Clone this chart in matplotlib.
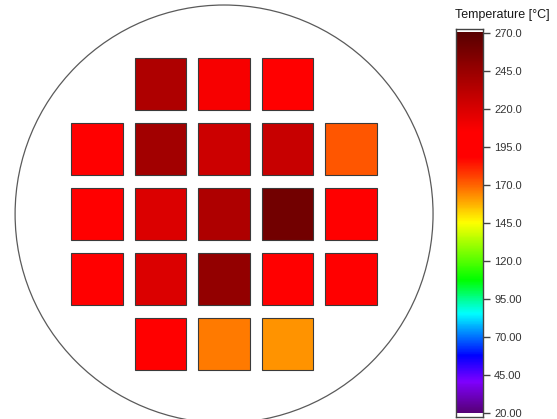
import numpy as np
import matplotlib
matplotlib.use("Agg")
import matplotlib.pyplot as plt
from matplotlib.colors import LinearSegmentedColormap, Normalize
from matplotlib.patches import Circle, Rectangle

plt.rcParams['font.family'] = ['Liberation Sans', 'DejaVu Sans']

# die temperatures [degC], rows top to bottom, NaN = no die
row0 = [np.nan, 236, 208, 200, np.nan]
row1 = [200, 241, 225, 227, 172]
row2 = [200, 219, 236, 260, 202]
row3 = [200, 219, 247, 201, 201]
row4 = [np.nan, 201, 166, 162, np.nan]
temps = np.array([row0, row1, row2, row3, row4])

tick_values = [270, 245, 220, 195, 170, 145, 120, 95, 70, 45, 20]
tick_labels = ['270.0', '245.0', '220.0', '195.0', '170.0', '145.0',
               '120.0', '95.00', '70.00', '45.00', '20.00']
tmin, tmax = 20, 270

# wafer / die layout in mm
wafer_r = 100.0
pitch_x, pitch_y = 30.4, 31.1
die = 24.6

# rainbow map: purple -> blue -> cyan -> green -> yellow -> orange -> red -> dark red
nodes = [(20, (0.34, 0.0, 0.47)), (40, (0.50, 0.0, 1.0)), (57, (0.0, 0.0, 1.0)),
         (85, (0.0, 1.0, 1.0)), (107, (0.0, 1.0, 0.0)), (145, (1.0, 1.0, 0.0)),
         (170, (1.0, 0.38, 0.0)), (188, (1.0, 0.0, 0.0)), (205, (1.0, 0.0, 0.0)),
         (270, (0.35, 0.0, 0.0))]
cmap = LinearSegmentedColormap.from_list(
    'temp', [((v - tmin) / (tmax - tmin), c) for v, c in nodes])
norm = Normalize(tmin, tmax)

fig = plt.figure(figsize=(5.57, 4.19), dpi=100)
ax = fig.add_axes([0, 0, 440 / 557, 1])
ax.set_xlim(-107.2, 103.3)
ax.set_ylim(-98.1, 102.4)
ax.set_aspect('equal')
ax.axis('off')

ax.add_patch(Circle((0, 0), wafer_r, fill=False, ec='#5a5a5a', lw=0.9))

nrows, ncols = temps.shape
for i in range(nrows):
    for j in range(ncols):
        t = temps[i, j]
        if np.isnan(t):
            continue
        cx = (j - (ncols - 1) / 2) * pitch_x
        cy = ((nrows - 1) / 2 - i) * pitch_y
        ax.add_patch(Rectangle((cx - die / 2, cy - die / 2), die, die,
                               fc=cmap(norm(t)), ec='#3a3a3a', lw=0.8))

# colour bar
cax = fig.add_axes([456 / 557, 2 / 419, 27 / 557, 388 / 419])
grad = np.linspace(tmin, tmax, 500).reshape(-1, 1)
cax.imshow(grad, cmap=cmap, norm=norm, origin='lower', aspect='auto',
           extent=[0, 1, tmin, tmax])
cax.set_xlim(0, 1)
cax.set_ylim(17.4, 272.6)
cax.set_xticks([])
cax.yaxis.tick_right()
cax.set_yticks(tick_values)
cax.set_yticklabels(tick_labels)
cax.tick_params(axis='y', length=5, width=1, color='#444444',
                labelsize=8, labelcolor='#333333', pad=3)
for s in cax.spines.values():
    s.set_color('#444444')
    s.set_linewidth(1.0)

fig.text(502 / 557, 1 - 15 / 419, 'Temperature [°C]', ha='center', va='center',
         fontsize=9, color='#1a1a1a')

fig.savefig('out.png', dpi=100)
